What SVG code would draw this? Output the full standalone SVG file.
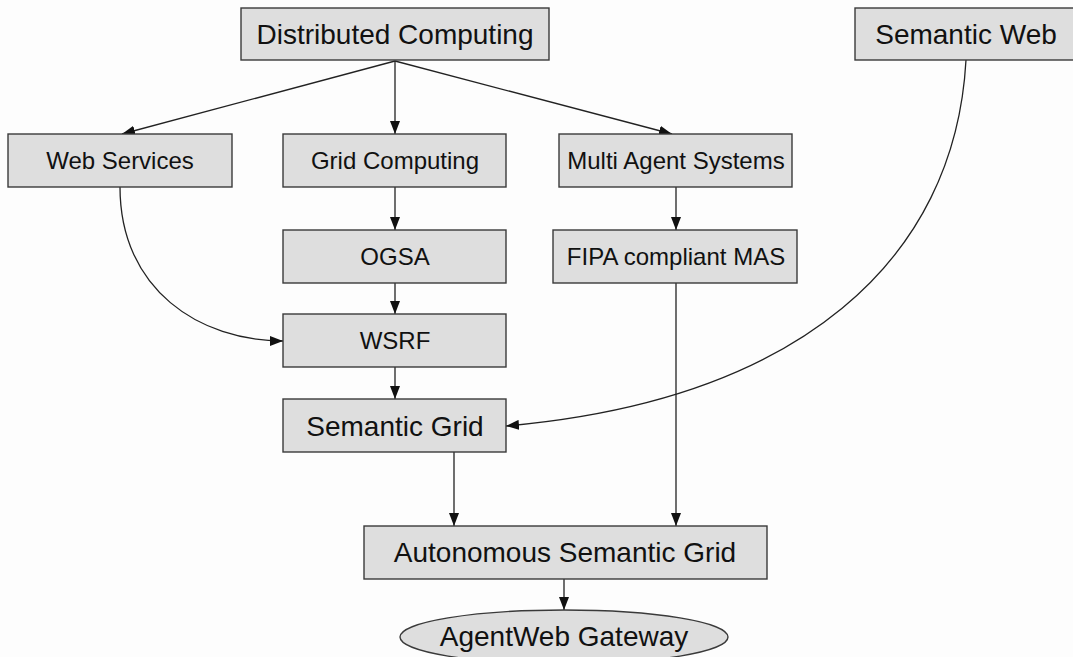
<svg xmlns="http://www.w3.org/2000/svg" width="1073" height="657" viewBox="0 0 1073 657">
  <style>
    .box { fill: #dedede; stroke: #3a3a3a; stroke-width: 1.4; }
    .lbl { font-family: "Liberation Sans", Arial, sans-serif; fill: #111; text-anchor: middle; }
    .big { font-size: 28px; }
    .small { font-size: 24px; }
    .edge { fill: none; stroke: #222; stroke-width: 1.3; marker-end: url(#arrow); }
  </style>
  <defs>
    <marker id="arrow" markerUnits="userSpaceOnUse" markerWidth="13" markerHeight="10" viewBox="0 0 13 10" refX="13" refY="5" orient="auto">
      <path d="M0,0 L13,5 L0,10 Z" fill="#111"/>
    </marker>
  </defs>
  <rect width="1073" height="657" fill="#fdfdfd"/>

  <!-- connectors -->
  <g id="connectors">
    <path class="edge" d="M395,61 L122,134"/>
    <path class="edge" d="M395,61 L395,134"/>
    <path class="edge" d="M395,61 L672,134"/>
    <path class="edge" d="M395,187 L395,230"/>
    <path class="edge" d="M395,283 L395,314"/>
    <path class="edge" d="M395,367 L395,399"/>
    <path class="edge" d="M676,187 L676,230"/>
    <path class="edge" d="M120,187 C120,290 200,341 283,341"/>
    <path class="edge" d="M966,60 C955,260 800,400 506,426"/>
    <path class="edge" d="M454,452 L454,526"/>
    <path class="edge" d="M676,283 L676,526"/>
    <path class="edge" d="M564,579 L564,610"/>
  </g>

  <g id="distributed-computing">
    <rect class="box" x="241" y="8" width="308" height="52"/>
    <text class="lbl big" x="395" y="44">Distributed Computing</text>
  </g>
  <g id="semantic-web">
    <rect class="box" x="855" y="8" width="225" height="52"/>
    <text class="lbl big" x="966" y="44">Semantic Web</text>
  </g>
  <g id="web-services">
    <rect class="box" x="8" y="134" width="224" height="53"/>
    <text class="lbl small" x="120" y="169">Web Services</text>
  </g>
  <g id="grid-computing">
    <rect class="box" x="283" y="134" width="223" height="53"/>
    <text class="lbl small" x="395" y="169">Grid Computing</text>
  </g>
  <g id="multi-agent-systems">
    <rect class="box" x="559" y="134" width="233" height="53"/>
    <text class="lbl small" x="676" y="169">Multi Agent Systems</text>
  </g>
  <g id="ogsa">
    <rect class="box" x="283" y="230" width="223" height="53"/>
    <text class="lbl small" x="395" y="265">OGSA</text>
  </g>
  <g id="fipa-mas">
    <rect class="box" x="553" y="230" width="244" height="53"/>
    <text class="lbl small" x="676" y="265">FIPA compliant MAS</text>
  </g>
  <g id="wsrf">
    <rect class="box" x="283" y="314" width="223" height="53"/>
    <text class="lbl small" x="395" y="349">WSRF</text>
  </g>
  <g id="semantic-grid">
    <rect class="box" x="283" y="399" width="223" height="53"/>
    <text class="lbl big" x="395" y="436">Semantic Grid</text>
  </g>
  <g id="autonomous-semantic-grid">
    <rect class="box" x="364" y="526" width="403" height="53"/>
    <text class="lbl big" x="565" y="562">Autonomous Semantic Grid</text>
  </g>
  <g id="agentweb-gateway">
    <ellipse class="box" cx="564" cy="637" rx="164" ry="27"/>
    <text class="lbl big" x="564" y="646">AgentWeb Gateway</text>
  </g>
</svg>
